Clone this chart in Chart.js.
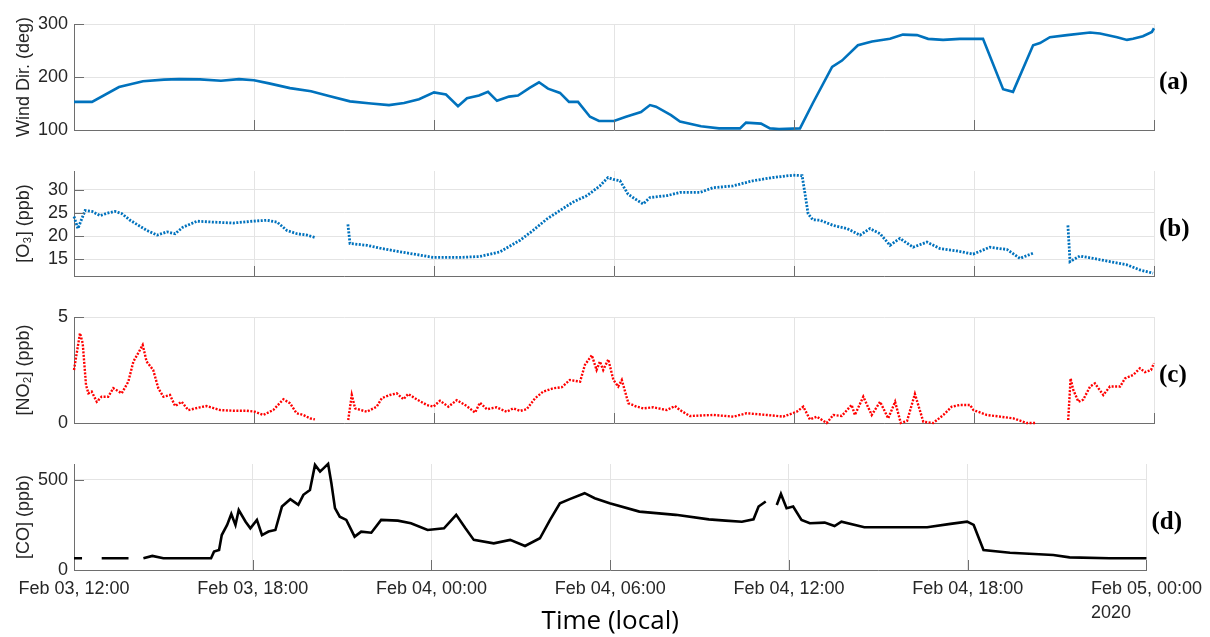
<!DOCTYPE html>
<html>
<head>
<meta charset="utf-8">
<title>Wind direction, O3, NO2 and CO, Feb 03-05 2020</title>
<script src="https://cdn.jsdelivr.net/npm/chart.js@4.4.1/dist/chart.umd.min.js"></script>
<style>
  html, body { margin: 0; padding: 0; background: #ffffff; }
  #figure { position: relative; width: 1210px; height: 637px; overflow: hidden; }
  #figure canvas { position: absolute; left: 0; }
</style>
</head>
<body>
<div id="figure">
  <canvas id="windChart" width="1210" height="147" style="top:0px"></canvas>
  <canvas id="o3Chart" width="1210" height="147" style="top:147px"></canvas>
  <canvas id="no2Chart" width="1210" height="147" style="top:294px"></canvas>
  <canvas id="coChart" width="1210" height="196" style="top:441px"></canvas>
</div>
<script>
/** Time axis: hours after Feb 03, 12:00 (local) */
const timeTicks = [0, 6, 12, 18, 24, 30, 36];
const timeLabels = ['Feb 03, 12:00', 'Feb 03, 18:00', 'Feb 04, 00:00',
  'Feb 04, 06:00', 'Feb 04, 12:00', 'Feb 04, 18:00', 'Feb 05, 00:00'];
const yearLabel = '2020';

/** (a) wind direction, deg */
const windTicks = [100, 200, 300];
const windHours = [0, 0.6, 1.5, 2.3, 3.0, 3.5, 4.2, 4.9, 5.5, 6.0, 6.5, 7.2,
  7.9, 8.5, 9.2, 9.9, 10.5, 11.0, 11.5, 12.0, 12.4, 12.8, 13.1, 13.5, 13.8,
  14.1, 14.5, 14.8, 15.2, 15.5, 15.8, 16.2, 16.5, 16.8, 17.2, 17.5, 18.0,
  18.4, 18.9, 19.2, 19.4, 19.9, 20.2, 20.9, 21.5, 22.2, 22.4, 22.9, 23.2,
  23.5, 24.2, 24.63, 25.27, 25.6, 26.13, 26.6, 27.2, 27.63, 28.1, 28.47,
  28.97, 29.53, 30.3, 30.97, 31.3, 31.97, 32.2, 32.53, 33.1, 33.87, 34.2,
  34.77, 35.1, 35.3, 35.63, 35.93, 36];
const windValues = [153, 153, 181, 192, 195, 196, 195.5, 193, 196, 194, 188,
  179, 173, 164, 154, 150, 147, 151, 158, 171, 167, 145, 160, 165, 172,
  155, 163, 165, 180, 190, 178, 170, 153, 153, 125, 117, 117,
  125, 134, 147, 144, 128, 116, 107, 103, 103, 114, 112, 103,
  102, 103, 151, 219, 231, 260, 267, 272, 280, 279, 272,
  270, 272, 272, 177, 172, 260, 264, 275, 279, 284, 282,
  275, 270, 272, 277, 285, 292];

/** (b) ozone, ppb (null = no data) */
const o3Ticks = [15, 20, 25, 30];
const o3Hours = [0, 0.13, 0.37, 0.6, 0.87, 1.1, 1.37, 1.6, 1.87, 2.1, 2.43,
  2.77, 3.1, 3.37, 3.63, 4.1, 4.63, 5.3, 5.97, 6.43, 6.77, 7.1, 7.43, 7.77,
  8.03, 8.6, 9.13, 9.2, 9.77, 10.2, 10.87, 11.53, 11.97, 12.87, 13.53, 14.2,
  14.87, 15.3, 15.77, 16.2, 16.63, 17.1, 17.53, 17.8, 17.97, 18.2, 18.47,
  18.7, 18.97, 19.2, 19.77, 20.2, 20.87, 21.3, 21.97, 22.63, 23.3, 23.97,
  24.27, 24.37, 24.47, 24.63, 24.87, 25.3, 25.77, 26.2, 26.53, 26.87, 27.2,
  27.53, 27.97, 28.43, 28.87, 29.43, 29.97, 30.53, 31.1, 31.53, 31.97, 32.5,
  33.13, 33.17, 33.2, 33.53, 33.97, 34.53, 35.1, 35.53, 35.97];
const o3Values = [24.2, 21.6, 25.5, 25.3, 24.4, 24.9, 25.3, 24.8, 23.4, 22.5,
  21.2, 20.2, 20.9, 20.5, 21.9, 23.2, 23.0, 22.8, 23.2, 23.4, 23.0, 21.2,
  20.5, 20.2, 19.7, null, 22.5, 18.4, 18.0, 17.4, 16.6, 15.9, 15.4, 15.4,
  15.6, 16.6, 19.1, 21.2, 23.7, 25.5, 27.3, 28.7, 30.8, 32.6, 32.2, 31.9,
  29.0, 28.0, 26.9, 28.3, 28.7, 29.4, 29.4, 30.4, 30.8, 31.9, 32.6, 33.1,
  33.0, 29.0, 24.8, 23.5, 23.4, 22.3, 21.6, 20.2, 21.6, 20.5, 18.0, 19.5,
  17.6, 18.7, 17.3, 16.8, 16.1, 17.6, 17.1, 15.2, 16.3, null, 22.3, 18.0,
  14.5, 15.7, 15.2, 14.5, 13.8, 12.7, 12.0];

/** (c) nitrogen dioxide, ppb (null = no data) */
const no2Ticks = [0, 5];
const no2Hours = [0, 0.2, 0.29, 0.4, 0.48, 0.59, 0.76, 0.92, 1.14, 1.31, 1.59,
  1.81, 1.98, 2.14, 2.29, 2.42, 2.64, 2.81, 2.98, 3.2, 3.37, 3.59, 3.81, 4.2,
  4.42, 4.87, 5.31, 5.76, 6.03, 6.31, 6.64, 6.98, 7.2, 7.42, 7.64, 7.87,
  8.03, 8.6, 9.14, 9.26, 9.37, 9.76, 10.09, 10.26, 10.53, 10.76, 10.98,
  11.14, 11.42, 11.76, 11.98, 12.2, 12.48, 12.76, 13.09, 13.37, 13.53,
  13.76, 14.09, 14.42, 14.64, 14.87, 15.09, 15.37, 15.64, 15.98, 16.26,
  16.53, 16.87, 17.03, 17.26, 17.42, 17.53, 17.64, 17.81, 17.98, 18.14,
  18.26, 18.48, 18.76, 18.98, 19.31, 19.76, 20.03, 20.2, 20.53, 21.31,
  21.98, 22.42, 23.09, 23.64, 24.09, 24.31, 24.53, 24.76, 25.09, 25.31,
  25.59, 25.92, 26.03, 26.31, 26.59, 26.87, 27.14, 27.37, 27.56, 27.77,
  28.03, 28.31, 28.64, 28.98, 29.26, 29.53, 29.87, 29.98, 30.42, 30.87,
  31.31, 31.76, 32.07, 32.6, 33.14, 33.22, 33.31, 33.48, 33.64, 33.87,
  34.03, 34.31, 34.53, 34.87, 35.03, 35.31, 35.53, 35.7, 35.9, 36];
const no2Values = [2.5, 4.24, 3.76, 1.8, 1.4, 1.48, 1.0, 1.24, 1.24, 1.64, 1.4,
  1.95, 2.9, 3.3, 3.68, 2.9, 2.5, 1.64, 1.24, 1.32, 0.8, 1.0, 0.61, 0.74,
  0.8, 0.61, 0.58, 0.58, 0.53, 0.38, 0.61, 1.12, 0.93, 0.46, 0.38, 0.22,
  0.17, null, 0.14, 1.32, 0.69, 0.53, 0.77, 1.17, 1.32, 1.4, 1.12,
  1.37, 1.12, 0.85, 0.77, 1.05, 0.77, 1.08, 0.8, 0.49, 0.96,
  0.65, 0.74, 0.53, 0.69, 0.57, 0.65, 1.17, 1.48, 1.64, 1.69,
  2.03, 1.95, 2.74, 3.2, 2.5, 2.9, 2.5, 3.0, 2.03, 1.72,
  2.03, 0.93, 0.77, 0.69, 0.74, 0.61, 0.8, 0.61, 0.33, 0.38,
  0.3, 0.46, 0.38, 0.3, 0.53, 0.77, 0.17, 0.3, 0, 0.38,
  0.33, 0.85, 0.38, 1.24, 0.38, 1.0, 0.22, 1.0, 0, 0.1,
  1.37, 0.06, 0, 0.38, 0.77, 0.85, 0.85, 0.61, 0.38, 0.3,
  0.22, 0, 0, null, 0.14, 2.1, 1.56, 1.0, 1.1, 1.72,
  1.87, 1.32, 1.72, 1.72, 2.1, 2.27, 2.58, 2.4, 2.5, 2.82];

/** (d) carbon monoxide, ppb (null = no data) */
const coTicks = [0, 500];
const coHours = [0, 0.27, 0.6, 0.93, 1.83, 2.1, 2.33, 2.63, 3.0, 4.6, 4.7,
  4.87, 4.96, 5.14, 5.28, 5.42, 5.53, 5.76, 5.92, 6.14, 6.31, 6.53, 6.76,
  6.98, 7.26, 7.53, 7.7, 7.92, 8.09, 8.26, 8.53, 8.64, 8.76, 8.92, 9.14,
  9.42, 9.64, 9.98, 10.31, 10.87, 11.31, 11.87, 12.42, 12.83, 13.14, 13.42,
  14.09, 14.64, 15.14, 15.64, 15.98, 16.31, 16.64, 17.14, 17.48, 17.98,
  18.98, 20.2, 21.31, 21.87, 22.42, 22.81, 22.98, 23.22, 23.4, 23.59,
  23.73, 23.92, 24.14, 24.42, 24.7, 25.2, 25.53, 25.76, 26.53, 27.53,
  28.64, 29.42, 29.98, 30.2, 30.53, 31.42, 32.87, 33.42, 34.76, 36];
const coValues = [65, 65, null, 65, 65, null, 65, 78, 65, 65, 102,
  111, 194, 250, 311, 250, 333, 268, 231, 278, 194, 213, 222,
  352, 393, 361, 417, 444, 583, 546, 589, 481, 343, 296, 278,
  185, 213, 207, 278, 274, 259, 222, 231, 306, 231, 167,
  148, 167, 133, 176, 278, 370, 393, 426, 398, 370,
  324, 306, 281, 274, 268, 281, 352, 380, null, 361,
  422, 343, 352, 278, 259, 263, 244, 268, 237, 237,
  237, 256, 268, 250, 111, 96, 83, 70, 65, 65];

const PLOT_LEFT = 74; /** pixel where the plotting area starts */
const PLOT_RIGHT = 1154; /** pixel where the plotting area ends */
const TEXT_COLOR = '#262626';
const GRID_COLOR = '#e4e4e4';
const AXIS_COLOR = '#6e6e6e';
const TICK_FONT = { family: '"Liberation Sans", Arial, sans-serif', size: 18 };

/**
 * Pairs an hours array with a values array into chart points
 * @param {number[]} hours x values
 * @param {number[]} values y values
 */
function toPoints(hours, values) {
  return hours.map((hour, i) => ({ x: hour, y: values[i] }));
}

/**
 * Draws the MATLAB-like inward tick marks, the panel letter and
 * the year under the last time label
 */
const panelDecor = {
  id: 'panelDecor',
  afterDatasetsDraw(chart, args, opts) {
    const { ctx, chartArea, scales } = chart;
    ctx.save();
    ctx.strokeStyle = AXIS_COLOR;
    ctx.lineWidth = 1;
    ctx.beginPath();
    scales.x.ticks.forEach((tick) => {
      const px = Math.round(scales.x.getPixelForValue(tick.value)) + 0.5;
      ctx.moveTo(px, chartArea.bottom);
      ctx.lineTo(px, chartArea.bottom - 10);
    });
    scales.y.ticks.forEach((tick) => {
      const py = Math.round(scales.y.getPixelForValue(tick.value)) + 0.5;
      ctx.moveTo(chartArea.left, py);
      ctx.lineTo(chartArea.left + 10, py);
    });
    ctx.stroke();

    ctx.fillStyle = '#000000';
    ctx.font = 'bold 25px "Liberation Serif", "Times New Roman", serif';
    ctx.textAlign = 'left';
    ctx.textBaseline = 'middle';
    ctx.fillText(opts.label, chartArea.right + 5,
      (chartArea.top + chartArea.bottom) / 2 + 6);

    if (opts.showYear) {
      const lastLabel = timeLabels[timeLabels.length - 1];
      ctx.font = `${TICK_FONT.size}px ${TICK_FONT.family}`;
      const labelWidth = ctx.measureText(lastLabel).width;
      const lastX = scales.x.getPixelForValue(timeTicks[timeTicks.length - 1]);
      ctx.fillStyle = TEXT_COLOR;
      ctx.fillText(yearLabel, lastX - labelWidth / 2, chartArea.bottom + 43);
    }
    ctx.restore();
  }
};

/**
 * Builds one of the stacked panels
 * @param {string} canvasId id of the canvas element
 * @param {object} panel description of the panel
 */
function makePanel(canvasId, panel) {
  const canvas = document.getElementById(canvasId);
  const height = canvas.height;
  const bottomSpace = height - panel.plotBottom;
  return new Chart(canvas.getContext('2d'), {
    type: 'line',
    data: {
      datasets: [{
        data: toPoints(panel.hours, panel.values),
        borderColor: panel.color,
        borderWidth: panel.lineWidth,
        borderDash: panel.dash,
        pointRadius: 0,
        spanGaps: false,
        tension: 0,
        clip: 3
      }]
    },
    options: {
      animation: false,
      responsive: false,
      devicePixelRatio: 1,
      layout: {
        padding: {
          left: 0,
          right: canvas.width - PLOT_RIGHT,
          top: panel.plotTop,
          bottom: panel.showTime ? 0 : bottomSpace
        }
      },
      plugins: {
        legend: { display: false },
        tooltip: { enabled: false },
        panelDecor: { label: panel.label, showYear: panel.showTime }
      },
      scales: {
        x: {
          type: 'linear',
          min: timeTicks[0],
          max: timeTicks[timeTicks.length - 1],
          afterBuildTicks: (scale) => {
            scale.ticks = timeTicks.map((value) => ({ value }));
          },
          afterFit: (scale) => {
            scale.height = panel.showTime ? bottomSpace : 0;
          },
          grid: { color: GRID_COLOR, drawTicks: false },
          border: { color: AXIS_COLOR, width: 1 },
          ticks: {
            display: panel.showTime,
            autoSkip: false,
            maxRotation: 0,
            padding: 8,
            color: TEXT_COLOR,
            font: TICK_FONT,
            callback: (value, index) => timeLabels[index]
          },
          title: {
            display: panel.showTime,
            text: 'Time (local)',
            color: '#000000',
            font: { family: '"Open Sans", "Noto Sans", sans-serif', size: 26 },
            padding: { top: 0, bottom: 0 }
          }
        },
        y: {
          min: panel.yMin,
          max: panel.yMax,
          afterBuildTicks: (scale) => {
            scale.ticks = panel.yTicks.map((value) => ({ value }));
          },
          afterFit: (scale) => {
            scale.width = PLOT_LEFT;
          },
          grid: { color: GRID_COLOR, drawTicks: false },
          border: { color: AXIS_COLOR, width: 1 },
          ticks: { padding: 6, color: TEXT_COLOR, font: TICK_FONT },
          title: {
            display: true,
            text: panel.yTitle,
            color: TEXT_COLOR,
            font: TICK_FONT,
            padding: { top: 13, bottom: 0 }
          }
        }
      }
    },
    plugins: [panelDecor]
  });
}

makePanel('windChart', {
  hours: windHours, values: windValues, color: '#0072BD', lineWidth: 2.6,
  dash: [], yMin: 100, yMax: 300, yTicks: windTicks,
  yTitle: 'Wind Dir. (deg)', label: '(a)', plotTop: 24, plotBottom: 130,
  showTime: false
});

makePanel('o3Chart', {
  hours: o3Hours, values: o3Values, color: '#0072BD', lineWidth: 2.8,
  dash: [2, 1.5], yMin: 11.4, yMax: 34, yTicks: o3Ticks,
  yTitle: '[O\u2083] (ppb)', label: '(b)', plotTop: 24, plotBottom: 129,
  showTime: false
});

makePanel('no2Chart', {
  hours: no2Hours, values: no2Values, color: '#ff0000', lineWidth: 2.4,
  dash: [2, 1.5], yMin: 0, yMax: 5, yTicks: no2Ticks,
  yTitle: '[NO\u2082] (ppb)', label: '(c)', plotTop: 23, plotBottom: 129,
  showTime: false
});

makePanel('coChart', {
  hours: coHours, values: coValues, color: '#000000', lineWidth: 2.6,
  dash: [], yMin: 0, yMax: 588, yTicks: coTicks,
  yTitle: '[CO] (ppb)', label: '(d)', plotTop: 23, plotBottom: 129,
  showTime: true
});
</script>
</body>
</html>
